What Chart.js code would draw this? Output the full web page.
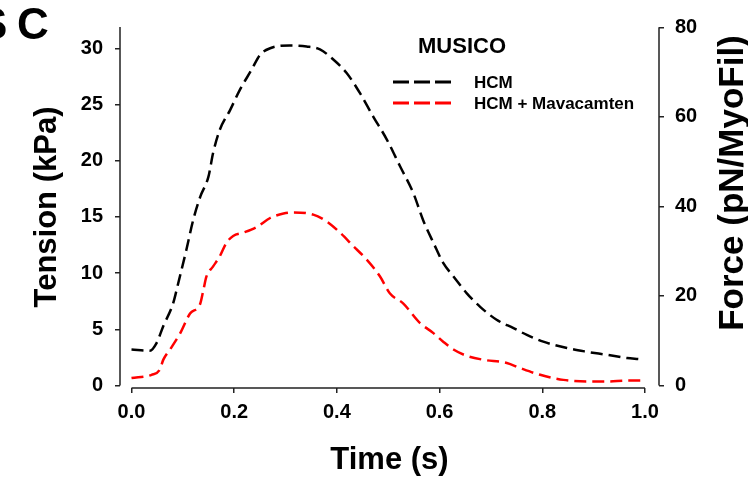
<!DOCTYPE html>
<html>
<head>
<meta charset="utf-8">
<script src="https://cdn.jsdelivr.net/npm/chart.js@4.4.0/dist/chart.umd.min.js"></script>
<style>
    body { margin: 0; background: #fff; }
    canvas { display: block; }
</style>
</head>
<body>
<canvas id="chartTension" width="748" height="477"></canvas>
<script>
// values (time in s, tension in kPa)
const hcmTime = [0, 0.036, 0.049, 0.062, 0.081, 0.091, 0.107, 0.12, 0.134, 0.15, 0.159, 0.172, 0.192, 0.211, 0.234, 0.25, 0.27, 0.308, 0.341, 0.367, 0.393, 0.419, 0.445, 0.471, 0.497, 0.523, 0.549, 0.568, 0.588, 0.607, 0.627, 0.653, 0.679, 0.711, 0.744, 0.77, 0.802, 0.848, 0.887, 0.926, 0.965, 0.987]
const hcmTension = [3.2, 3.1, 3.8, 5.3, 7.3, 9.1, 12.1, 14.7, 16.8, 18.6, 20.7, 22.75, 24.5, 26.3, 28.1, 29.4, 30.0, 30.25, 30.16, 29.9, 29.0, 27.8, 26.0, 23.9, 21.9, 19.5, 17.1, 14.7, 12.7, 10.9, 9.7, 8.2, 7.0, 5.85, 5.1, 4.5, 3.9, 3.33, 3.0, 2.73, 2.44, 2.35]

const mavaTime = [0, 0.039, 0.055, 0.062, 0.075, 0.095, 0.114, 0.134, 0.14, 0.146, 0.159, 0.172, 0.185, 0.198, 0.218, 0.244, 0.27, 0.296, 0.315, 0.354, 0.38, 0.406, 0.432, 0.458, 0.484, 0.503, 0.529, 0.562, 0.588, 0.607, 0.627, 0.653, 0.685, 0.731, 0.757, 0.796, 0.841, 0.887, 0.926, 0.965, 0.997]
const mavaTension = [0.66, 0.95, 1.4, 2.3, 3.2, 4.66, 6.4, 7.3, 8.5, 9.7, 10.6, 11.5, 12.7, 13.3, 13.6, 14.1, 14.9, 15.3, 15.4, 15.2, 14.6, 13.6, 12.4, 11.2, 9.7, 8.2, 7.3, 5.55, 4.66, 3.9, 3.2, 2.64, 2.29, 2.0, 1.55, 0.95, 0.5, 0.36, 0.36, 0.44, 0.44]

const timeTicks = [0, 0.2, 0.4, 0.6, 0.8, 1.0]
const tensionTicks = [0, 5, 10, 15, 20, 25, 30]
const forceTicks = [0, 20, 40, 60, 80]

const seriesNames = ["HCM", "HCM + Mavacamten"]
const legendTitle = "MUSICO"
const panelLetter = "C"

const font = "Arial, 'Liberation Sans', sans-serif"
const axisColor = "#222"

function toPoints(xs, ys) {
    return xs.map((x, i) => ({x: x, y: ys[i]}))
}

// draws the offset axis lines, the legend, the right title and the panel letter
const extras = {
    id: "extras",
    afterDraw(chart) {
        const ctx = chart.ctx
        const {x, y, y1} = chart.scales
        ctx.save()
        ctx.strokeStyle = axisColor
        ctx.lineWidth = 1.5
        ctx.beginPath()
        ctx.moveTo(x.getPixelForValue(timeTicks[0]), x.top)
        ctx.lineTo(x.getPixelForValue(timeTicks[timeTicks.length - 1]), x.top)
        ctx.moveTo(y.right, y.getPixelForValue(0))
        ctx.lineTo(y.right, y.getPixelForValue(31.9))
        ctx.moveTo(y1.left, y1.getPixelForValue(0))
        ctx.lineTo(y1.left, y1.getPixelForValue(80))
        ctx.stroke()

        // legend
        ctx.fillStyle = "#000"
        ctx.textBaseline = "middle"
        ctx.textAlign = "center"
        ctx.font = "bold 22px " + font
        ctx.fillText(legendTitle, 462, 47)
        ctx.textAlign = "left"
        ctx.font = "bold 17px " + font
        chart.data.datasets.forEach((ds, i) => {
            const ly = 82 + i * 21
            ctx.strokeStyle = ds.borderColor
            ctx.lineWidth = 3
            ctx.setLineDash([16, 5])
            ctx.beginPath()
            ctx.moveTo(393, ly)
            ctx.lineTo(452, ly)
            ctx.stroke()
            ctx.setLineDash([])
            ctx.fillText(ds.label, 474, ly + 1)
        })

        // right axis title reads bottom to top
        ctx.save()
        ctx.translate(733, 183)
        ctx.rotate(-Math.PI / 2)
        ctx.textAlign = "center"
        ctx.font = "bold 35px " + font
        ctx.fillText("Force (pN/MyoFil)", 0, 0)
        ctx.restore()

        ctx.textAlign = "left"
        ctx.font = "bold 44px " + font
        ctx.fillText("S", -22, 27)
        ctx.fillText(panelLetter, 17, 27)
        ctx.restore()
    }
}

new Chart(document.getElementById("chartTension"), {
    type: "line",
    data: {
        datasets: [{
            label: seriesNames[0],
            data: toPoints(hcmTime, hcmTension),
            borderColor: "#000000",
            yAxisID: "y"
        }, {
            label: seriesNames[1],
            data: toPoints(mavaTime, mavaTension),
            borderColor: "#ff0000",
            yAxisID: "y"
        }]
    },
    options: {
        responsive: false,
        animation: false,
        layout: {padding: {top: 26, left: 0, right: 0, bottom: 0}},
        elements: {
            point: {radius: 0},
            line: {borderWidth: 2.5, borderDash: [12, 6], cubicInterpolationMode: "monotone", fill: false}
        },
        plugins: {
            legend: {display: false},
            tooltip: {enabled: false}
        },
        scales: {
            x: {
                type: "linear",
                min: -0.0224,
                max: 1.0273,
                afterBuildTicks: s => { s.ticks = timeTicks.map(v => ({value: v})) },
                afterFit: s => { s.height = 89 },
                border: {display: false},
                grid: {drawOnChartArea: false, tickLength: 5, color: axisColor, lineWidth: 1.5},
                ticks: {
                    color: "#000",
                    padding: 7,
                    font: {family: font, size: 20, weight: "bold"},
                    callback: v => v.toFixed(1)
                },
                title: {
                    display: true,
                    text: "Time (s)",
                    color: "#000",
                    font: {family: font, size: 31, weight: "bold", lineHeight: 1},
                    padding: {top: 0, bottom: 1}
                }
            },
            y: {
                position: "left",
                min: -0.222,
                max: 31.98,
                afterBuildTicks: s => { s.ticks = tensionTicks.map(v => ({value: v})) },
                afterFit: s => { s.width = 120 },
                border: {display: false},
                grid: {drawOnChartArea: false, tickLength: 5, color: axisColor, lineWidth: 1.5},
                ticks: {
                    color: "#000",
                    padding: 12,
                    font: {family: font, size: 20, weight: "bold"}
                },
                title: {
                    display: true,
                    text: "Tension (kPa)",
                    color: "#000",
                    font: {family: font, size: 31, weight: "bold", lineHeight: 1},
                    padding: {top: 32, bottom: 0}
                }
            },
            y1: {
                position: "right",
                min: -0.558,
                max: 80.29,
                afterBuildTicks: s => { s.ticks = forceTicks.map(v => ({value: v})) },
                afterFit: s => { s.width = 89 },
                border: {display: false},
                grid: {drawOnChartArea: false, tickLength: 5, color: axisColor, lineWidth: 1.5},
                ticks: {
                    color: "#000",
                    padding: 11,
                    font: {family: font, size: 20, weight: "bold"}
                }
            }
        }
    },
    plugins: [extras]
});
</script>
</body>
</html>
